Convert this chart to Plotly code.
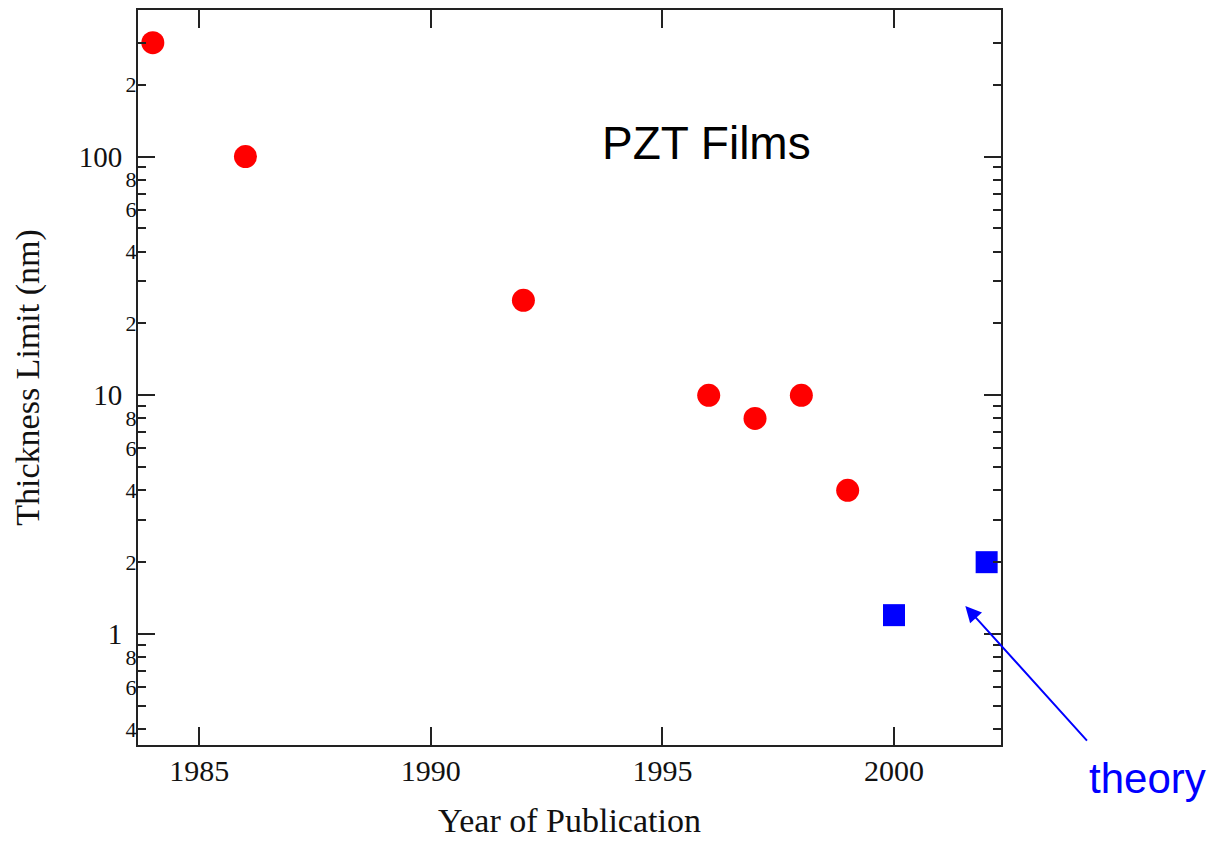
import math
import plotly.graph_objects as go

# ---- data ----
exp_years = [1984, 1986, 1992, 1996, 1997, 1998, 1999]
exp_thickness = [300, 100, 25, 10, 8, 10, 4]
theory_years = [2000, 2002]
theory_thickness = [1.2, 2]

x_ticks = [1985, 1990, 1995, 2000]
major_vals = [1, 10, 100]
major_text = ["1", "10", "100"]
minor_vals = [0.4, 0.5, 0.6, 0.7, 0.8, 0.9,
              2, 3, 4, 5, 6, 7, 8, 9,
              20, 30, 40, 50, 60, 70, 80, 90,
              200, 300]
minor_text = ["4", "", "6", "", "8", "",
              "2", "", "4", "", "6", "", "8", "",
              "2", "", "4", "", "6", "", "8", "",
              "2", ""]

x_range = [1983.68, 2002.31]
y_range = [math.log10(0.343), math.log10(411)]

SERIF = "Liberation Serif, Times New Roman, serif"
SANS = "Liberation Sans, Arial, sans-serif"
LINE = "#222222"

fig = go.Figure()
fig.add_trace(go.Scatter(
    x=exp_years, y=exp_thickness, mode="markers",
    marker=dict(symbol="circle", size=23, color="#ff0000", line=dict(width=0)),
    yaxis="y", showlegend=False, cliponaxis=False))
fig.add_trace(go.Scatter(
    x=theory_years, y=theory_thickness, mode="markers",
    marker=dict(symbol="square", size=22, color="#0000ff", line=dict(width=0)),
    yaxis="y2", showlegend=False, cliponaxis=False))

fig.update_layout(
    width=1211, height=842,
    margin=dict(l=138, r=210, t=10, b=97, autoexpand=False),
    paper_bgcolor="white", plot_bgcolor="white",
    font=dict(family=SERIF, color="#111111"),
    xaxis=dict(
        range=x_range, tickmode="array", tickvals=x_ticks,
        ticks="inside", ticklen=18, tickwidth=2, tickcolor=LINE,
        showline=True, linewidth=2, linecolor=LINE, mirror="ticks",
        showgrid=False, zeroline=False, automargin=False,
        tickfont=dict(family=SERIF, size=30, color="#111111"),
        ticklabelstandoff=-2,
        title=dict(text="Year of Publication", standoff=22,
                   font=dict(family=SERIF, size=34, color="#111111")),
    ),
    yaxis=dict(
        type="log", range=y_range, tickmode="array",
        tickvals=minor_vals, ticktext=minor_text,
        ticks="inside", ticklen=8, tickwidth=2, tickcolor=LINE,
        showline=True, linewidth=2, linecolor=LINE, mirror="ticks",
        showgrid=False, zeroline=False, automargin=False,
        tickfont=dict(family=SERIF, size=22, color="#111111"),
        ticklabelstandoff=-5,
        title=dict(text="Thickness Limit (nm)", standoff=76,
                   font=dict(family=SERIF, size=34, color="#111111")),
    ),
    yaxis2=dict(
        type="log", range=y_range, overlaying="y", side="left", anchor="x",
        tickmode="array", tickvals=major_vals, ticktext=major_text,
        ticks="inside", ticklen=17, tickwidth=2, tickcolor=LINE,
        showline=True, linewidth=2, linecolor=LINE, mirror="ticks",
        showgrid=False, zeroline=False, automargin=False,
        tickfont=dict(family=SERIF, size=29, color="#111111"),
        ticklabelstandoff=8,
    ),
    annotations=[
        dict(text="PZT Films", xref="paper", yref="paper", x=0.659, y=0.819,
             xanchor="center", yanchor="middle",
             showarrow=False, font=dict(family=SANS, size=46, color="#000000")),
        dict(text="theory", xref="paper", yref="paper", x=1.17, y=-0.045,
             xanchor="center", yanchor="middle",
             showarrow=False, font=dict(family=SANS, size=42, color="#0000ff")),
        dict(text="", xref="x", yref="y", x=2001.54, y=math.log10(1.31),
             ax=123, ay=136, showarrow=True, arrowhead=2, arrowsize=1.6,
             arrowwidth=2, arrowcolor="#0000ff"),
    ],
)

fig.write_html("out.html")
